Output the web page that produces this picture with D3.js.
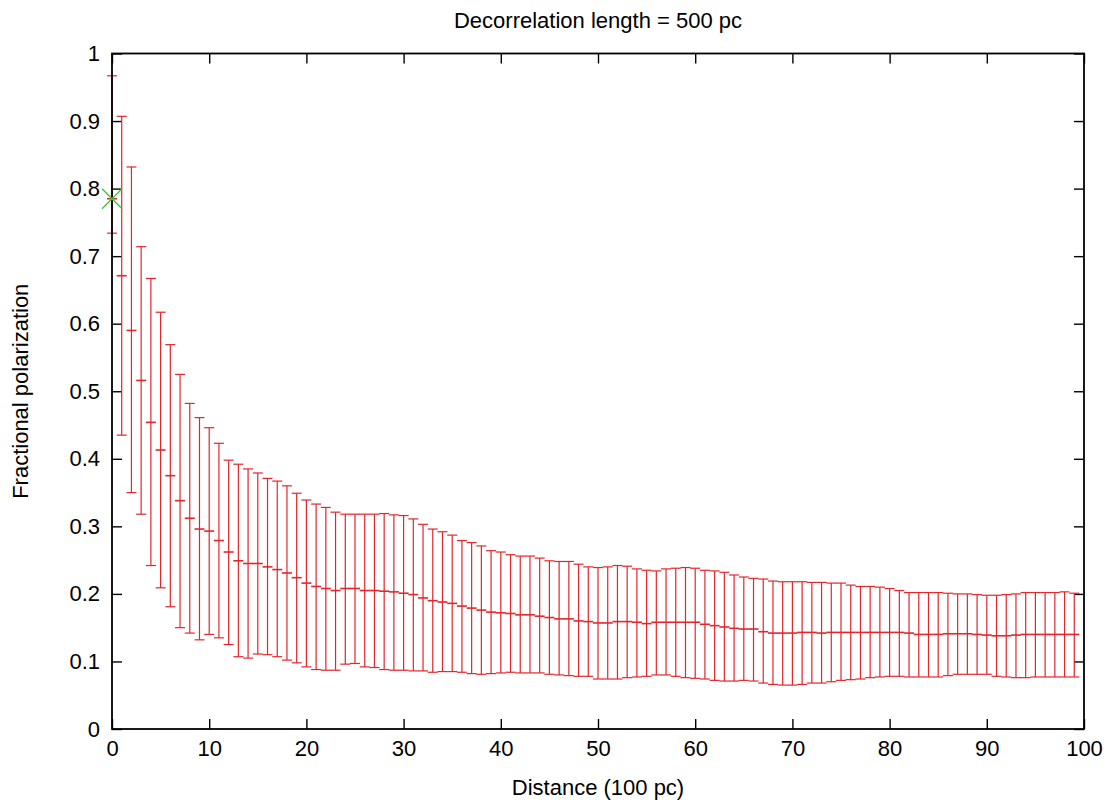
<!DOCTYPE html>
<html>
<head>
<meta charset="utf-8">
<script src="https://cdn.jsdelivr.net/npm/d3@7"></script>
<style>
  body { margin: 0; background: #fff; }
  text { font-family: "Liberation Sans", Arial, sans-serif; fill: #000; }
</style>
</head>
<body>
<svg id="chart" width="1117" height="803"></svg>
<script>
// data
const distance = [0,1,2,3,4,5,6,7,8,9,10,11,12,13,14,15,16,17,18,19,
  20,21,22,23,24,25,26,27,28,29,30,31,32,33,34,35,36,37,38,39,
  40,41,42,43,44,45,46,47,48,49,50,51,52,53,54,55,56,57,58,59,
  60,61,62,63,64,65,66,67,68,69,70,71,72,73,74,75,76,77,78,79,
  80,81,82,83,84,85,86,87,88,89,90,91,92,93,94,95,96,97,98,99];

const meanPol = [0.785,0.671,0.590,0.516,0.454,0.413,0.375,0.338,0.312,0.296,
  0.293,0.279,0.262,0.249,0.245,0.245,0.240,0.236,0.231,0.224,
  0.216,0.211,0.208,0.205,0.208,0.208,0.205,0.205,0.204,0.203,
  0.201,0.199,0.194,0.190,0.188,0.186,0.182,0.179,0.176,0.173,
  0.172,0.171,0.169,0.169,0.167,0.165,0.163,0.163,0.160,0.159,
  0.157,0.157,0.159,0.159,0.158,0.156,0.158,0.158,0.158,0.158,
  0.158,0.155,0.153,0.151,0.149,0.148,0.148,0.144,0.142,0.142,
  0.142,0.143,0.143,0.142,0.143,0.143,0.143,0.143,0.143,0.143,
  0.143,0.143,0.142,0.140,0.140,0.140,0.141,0.141,0.141,0.140,
  0.139,0.138,0.138,0.139,0.140,0.140,0.140,0.140,0.140,0.140];

const upperPol = [0.967,0.907,0.832,0.714,0.667,0.617,0.569,0.525,0.482,0.461,
  0.446,0.423,0.398,0.392,0.385,0.379,0.371,0.367,0.360,0.349,
  0.339,0.333,0.328,0.321,0.318,0.318,0.318,0.318,0.319,0.317,
  0.316,0.311,0.303,0.296,0.292,0.287,0.279,0.276,0.271,0.264,
  0.262,0.258,0.256,0.256,0.253,0.249,0.248,0.248,0.244,0.240,
  0.239,0.240,0.242,0.241,0.237,0.235,0.234,0.237,0.238,0.239,
  0.238,0.235,0.234,0.232,0.228,0.225,0.223,0.222,0.219,0.218,
  0.218,0.218,0.217,0.217,0.216,0.216,0.213,0.211,0.211,0.210,
  0.208,0.205,0.202,0.202,0.202,0.202,0.201,0.200,0.200,0.199,
  0.198,0.198,0.199,0.200,0.202,0.202,0.202,0.202,0.203,0.201];

const lowerPol = [0.734,0.435,0.350,0.318,0.242,0.209,0.181,0.150,0.142,0.132,
  0.140,0.135,0.125,0.107,0.105,0.111,0.110,0.107,0.102,0.098,
  0.092,0.088,0.087,0.087,0.096,0.097,0.092,0.091,0.088,0.087,
  0.087,0.086,0.086,0.084,0.085,0.085,0.084,0.082,0.081,0.082,
  0.083,0.084,0.083,0.083,0.083,0.081,0.080,0.079,0.078,0.078,
  0.074,0.074,0.074,0.076,0.077,0.078,0.080,0.080,0.078,0.076,
  0.075,0.074,0.072,0.071,0.071,0.072,0.071,0.068,0.066,0.065,
  0.065,0.066,0.068,0.068,0.070,0.072,0.073,0.074,0.076,0.077,
  0.078,0.078,0.077,0.077,0.077,0.077,0.079,0.081,0.081,0.081,
  0.081,0.078,0.077,0.076,0.076,0.077,0.077,0.077,0.077,0.077];

// single observed point (green cross)
const obsX = [0];
const obsY = [0.785];

const xTicks = [0,10,20,30,40,50,60,70,80,90,100];
const yTicks = [0,0.1,0.2,0.3,0.4,0.5,0.6,0.7,0.8,0.9,1];

const svg = d3.select('#chart');
const plotLeft = 112, plotRight = 1084, plotTop = 53.5, plotBottom = 729;
const fontSize = '22px';

const x = d3.scaleLinear().domain([0, 100]).range([plotLeft, plotRight]);
const y = d3.scaleLinear().domain([0, 1]).range([plotBottom, plotTop]);

// axes, ticks pointing inward like gnuplot
const gx = svg.append('g').attr('transform', `translate(0,${plotBottom})`)
    .call(d3.axisBottom(x).tickValues(xTicks).tickSizeInner(-10).tickSizeOuter(0).tickPadding(11).tickFormat(d => d));
const gxTop = svg.append('g').attr('transform', `translate(0,${plotTop})`)
    .call(d3.axisTop(x).tickValues(xTicks).tickSizeInner(-10).tickSizeOuter(0).tickFormat(''));
const gy = svg.append('g').attr('transform', `translate(${plotLeft},0)`)
    .call(d3.axisLeft(y).tickValues(yTicks).tickSizeInner(-10).tickSizeOuter(0).tickPadding(12).tickFormat(d => d));
const gyRight = svg.append('g').attr('transform', `translate(${plotRight},0)`)
    .call(d3.axisRight(y).tickValues(yTicks).tickSizeInner(-10).tickSizeOuter(0).tickFormat(''));

[gx, gxTop, gy, gyRight].forEach(g => {
    g.select('.domain').remove();
    g.selectAll('.tick line').attr('stroke', '#000').attr('stroke-width', 1.4);
    g.selectAll('.tick text')
        .attr('fill', '#000')
        .style('font-family', '"Liberation Sans", Arial, sans-serif')
        .style('font-size', fontSize);
});

// error bars
const bars = svg.append('g').attr('stroke', '#e3262b').attr('stroke-width', 1.2).attr('fill', 'none');
const capW = 5;

distance.forEach((d, i) => {
    const cx = x(d);
    bars.append('line')
        .attr('x1', cx).attr('x2', cx)
        .attr('y1', y(lowerPol[i])).attr('y2', y(upperPol[i]));
    // caps
    bars.append('line')
        .attr('x1', cx - capW).attr('x2', cx + capW)
        .attr('y1', y(upperPol[i])).attr('y2', y(upperPol[i]));
    bars.append('line')
        .attr('x1', cx - capW).attr('x2', cx + capW)
        .attr('y1', y(lowerPol[i])).attr('y2', y(lowerPol[i]));
    // mean marker
    bars.append('line')
        .attr('x1', cx - capW).attr('x2', cx + capW)
        .attr('y1', y(meanPol[i])).attr('y2', y(meanPol[i]))
        .attr('stroke-width', 1.6);
});

// frame
svg.append('rect')
    .attr('x', plotLeft).attr('y', plotTop)
    .attr('width', plotRight - plotLeft).attr('height', plotBottom - plotTop)
    .attr('fill', 'none').attr('stroke', '#000').attr('stroke-width', 1.8);

// green cross
const s = 10;
obsX.forEach((d, i) => {
    const px = x(d), py = y(obsY[i]);
    svg.append('path')
        .attr('d', `M${px - s},${py - s}L${px + s},${py + s}M${px - s},${py + s}L${px + s},${py - s}`)
        .attr('stroke', '#3cc83c').attr('stroke-width', 1.4).attr('fill', 'none');
});

// texts
svg.append('text')
    .attr('x', (plotLeft + plotRight) / 2).attr('y', 28)
    .attr('text-anchor', 'middle')
    .style('font-size', fontSize)
    .text('Decorrelation length = 500 pc');

svg.append('text')
    .attr('x', (plotLeft + plotRight) / 2).attr('y', 795)
    .attr('text-anchor', 'middle')
    .style('font-size', fontSize)
    .text('Distance (100 pc)');

svg.append('text')
    .attr('transform', `translate(28,${(plotTop + plotBottom) / 2}) rotate(-90)`)
    .attr('text-anchor', 'middle')
    .style('font-size', fontSize)
    .text('Fractional polarization');
</script>
</body>
</html>
